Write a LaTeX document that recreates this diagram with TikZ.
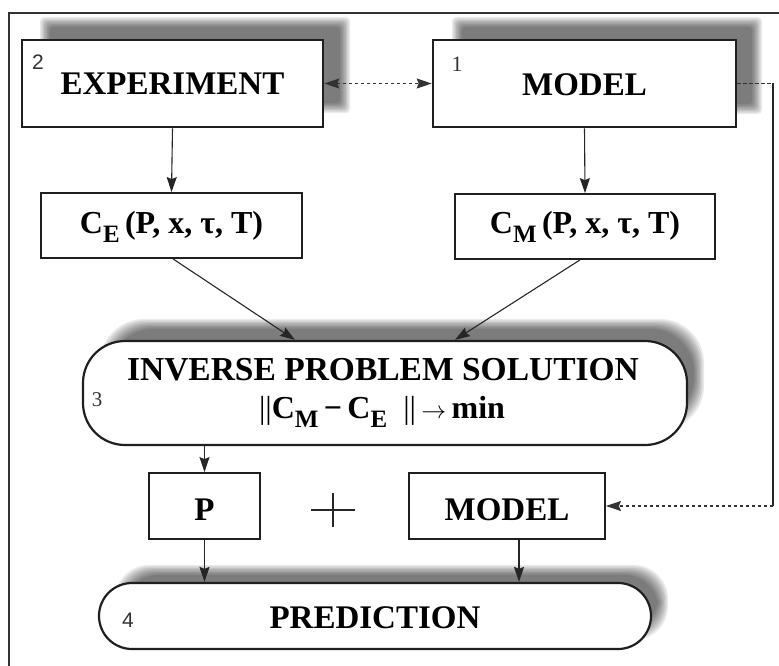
\documentclass[tikz,border=0pt]{standalone}
\usepackage{fontspec}
\setmainfont{Liberation Serif}
\newfontfamily\labelsans{Liberation Sans}
\usetikzlibrary{arrows.meta,calc}
\newcommand\softshade[5]{%
  \foreach \k in {0,...,7}{%
    \fill[black,opacity=0.085,rounded corners=#5pt]
      ({#1+\k*1.4},{#2+\k*1.4}) rectangle ({#3-\k*1.4},{#4-\k*1.4});
  }%
}
\newcommand\lowsub[1]{\raisebox{-9pt}[0pt][0pt]{\fontsize{25}{25}\selectfont #1}}
\begin{document}
\begin{tikzpicture}[x=1pt,y=-1pt,
  box/.style={draw=black!88, fill=white, inner sep=0pt, text depth=0pt,
    font=\fontsize{33}{36}\selectfont\bfseries},
  thickbox/.style={box, line width=2.6pt},
  midbox/.style={box, line width=1.8pt},
  roundbox/.style={box, line width=2.2pt},
  lab/.style={inner sep=0pt, anchor=base, text=black!80},
  txt/.style={inner sep=0pt, anchor=base},
  arr/.style={-{Stealth[length=15pt,width=10pt,inset=2pt]}, line width=1.1pt, draw=black!85},
  dsh/.style={dash pattern=on 3.5pt off 2.5pt, line width=1.3pt, draw=black!80}
]
\useasboundingbox (0,0) rectangle (779,666);
% frame
\draw[line width=1.4pt, draw=black!80] (9,666) -- (9,13) -- (779,13);
% shadows
\softshade{40}{17}{350}{113}{4}
\softshade{452}{17}{762}{114}{4}
\softshade{100}{319}{704}{430}{44}
\softshade{115}{565}{668}{640}{34}
% boxes
\node[thickbox, minimum width=301pt, minimum height=87pt, text height=23pt] (exp) at (172.5,83.5) {EXPERIMENT};
\node[thickbox, minimum width=303pt, minimum height=87pt, text height=25pt] (mod) at (584.5,83.5) {MODEL};
\node[midbox, minimum width=261pt, minimum height=65pt, text height=15pt,
  font=\fontsize{32}{34}\selectfont\bfseries] (ce) at (171.5,225.5) {C\lowsub{E}\,(P, x, τ, T)};
\node[midbox, minimum width=260pt, minimum height=65pt, text height=14pt,
  font=\fontsize{32}{34}\selectfont\bfseries] (cm) at (585,226.5) {C\lowsub{M}\,(P, x, τ, T)};
\node[roundbox, rounded corners=42pt, minimum width=604pt, minimum height=104pt] (inv) at (385,393) {};
\node[txt, font=\fontsize{33.5}{36}\selectfont\bfseries] (invt1) at (383,380) {INVERSE PROBLEM SOLUTION};
\node[txt, font=\fontsize{32}{34}\selectfont\bfseries] (invt2) at (382,418)
  {{\mdseries\textbar\textbar}C\lowsub{M}\,−\,C\lowsub{E}\enspace{\mdseries\textbar\textbar}\,$\rightarrow$\,min};
\node[midbox, minimum width=111pt, minimum height=66pt, text height=28pt] (p) at (204.5,506) {P};
\node[midbox, minimum width=196pt, minimum height=66pt, text height=28pt] (mod2) at (507,506) {MODEL};
\node[roundbox, rounded corners=33pt, minimum width=552pt, minimum height=66pt, text height=24pt] (pred) at (375,616) {PREDICTION};
% number labels
\node[lab, font=\labelsans\fontsize{21}{21}\selectfont] (l2) at (38,70) {2};
\node[lab, font=\fontsize{22}{22}\selectfont] (l1) at (457,72) {1};
\node[lab, font=\fontsize{21}{21}\selectfont] (l3) at (97,406) {3};
\node[lab, font=\labelsans\fontsize{21}{21}\selectfont] (l4) at (128,627) {4};
% plus sign
\draw[line width=1.3pt, draw=black!85] (311,510) -- (355,510);
\draw[line width=1.3pt, draw=black!85] (333,493) -- (333,527);
% connectors
\draw[arr] (exp.south) -- (ce.north);
\draw[arr] (mod.south) -- (cm.north);
\draw[arr] ([xshift=1.5pt]ce.south) -- ([xshift=-90pt]inv.north);
\draw[arr] ([xshift=-5pt]cm.south) -- ([xshift=70pt]inv.north);
\draw[arr] (p.north |- inv.south) -- (p.north);
\draw[arr] (p.south) -- (p.south |- pred.north);
\draw[arr] ([xshift=12pt]mod2.south) -- ([xshift=12pt]mod2.south |- pred.north);
\draw[dsh, {Stealth[length=15pt,width=10pt,inset=2pt]}-{Stealth[length=15pt,width=10pt,inset=2pt]}] (exp.east) -- (mod.west);
\coordinate (c1) at (773,83.5);
\coordinate (c2) at (773,506);
\draw[dsh] (mod.east) -- (c1);
\draw[line width=1.1pt, draw=black!85] (c1) -- (c2);
\draw[dsh, -{Stealth[length=15pt,width=10pt,inset=2pt]}] (c2) -- (mod2.east);
\end{tikzpicture}
\end{document}
